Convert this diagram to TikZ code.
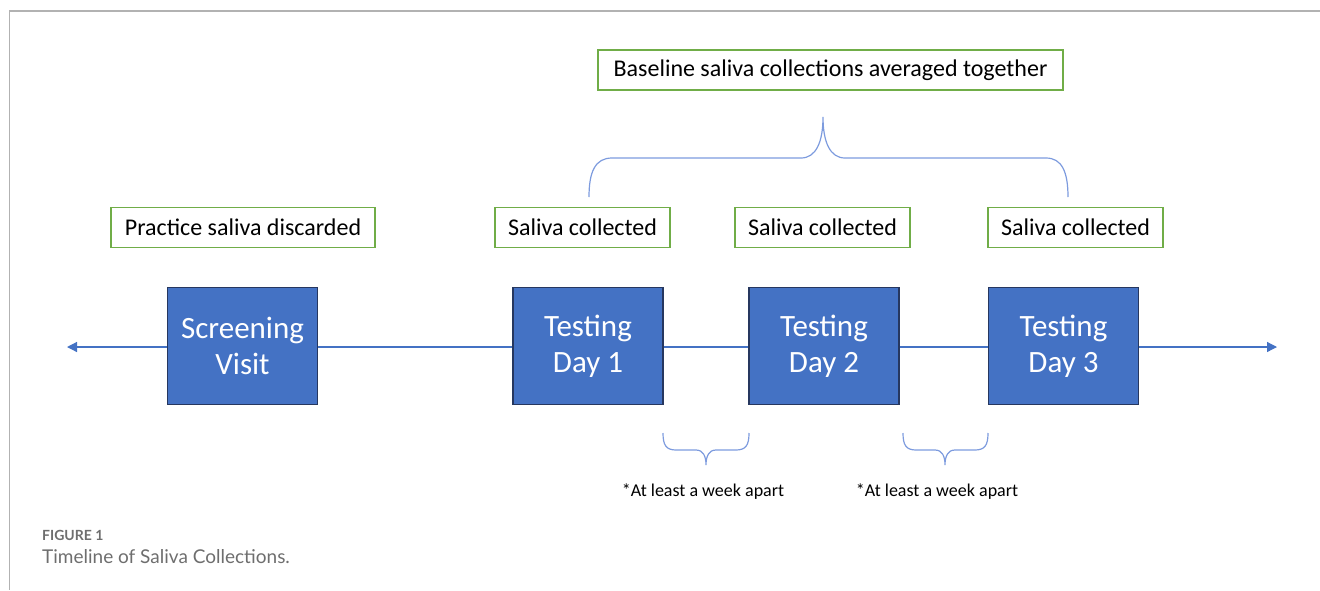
\documentclass[tikz,border=0pt]{standalone}
\usepackage{fontspec}
\setmainfont{Carlito}
\newfontfamily\capfont{Lato}
\usetikzlibrary{arrows.meta}
\definecolor{tlblue}{RGB}{68,114,196}
\definecolor{navy}{RGB}{38,55,95}
\definecolor{brblue}{RGB}{125,155,222}
\definecolor{lgreen}{RGB}{112,173,71}
\definecolor{framegray}{RGB}{178,178,178}
\definecolor{capgray}{RGB}{110,110,110}
\tikzset{
  dayblock/.style={draw=navy, line width=1.6pt, fill=tlblue, text=white, inner sep=0pt,
    minimum width=150pt, minimum height=117pt, align=center,
    font=\fontsize{31}{36}\selectfont},
  notebox/.style={draw=lgreen, line width=1.5pt, inner sep=0pt, minimum height=40pt,
    font=\fontsize{24}{28}\selectfont},
  tline/.style={tlblue, line width=1.2pt},
  brace/.style={brblue, line width=1.2pt},
  gaplabel/.style={font=\fontsize{18}{21}\selectfont},
}
\begin{document}
\begin{tikzpicture}[x=1pt,y=-1pt]
\useasboundingbox (0,0) rectangle (1320,590);
% frame
\draw[framegray, line width=2pt] (9,11) -- (1320,11);
\draw[framegray, line width=1.5pt] (9.5,10) -- (9.5,590);
% day blocks
\node[dayblock] (sv) at (242.5,346) {Screening\\Visit};
\node[dayblock] (t1) at (588,346) {Testing\\Day 1};
\node[dayblock] (t2) at (824,346) {Testing\\Day 2};
\node[dayblock] (t3) at (1063.5,346) {Testing\\Day 3};
% timeline
\coordinate (lend) at (67,347);
\coordinate (rend) at (1277,347);
\draw[tline, -{Triangle[length=10pt,width=10pt]}] (sv.west |- lend) -- (lend);
\draw[tline] (sv.east |- lend) -- (t1.west |- lend);
\draw[tline] (t1.east |- lend) -- (t2.west |- lend);
\draw[tline] (t2.east |- lend) -- (t3.west |- lend);
\draw[tline, -{Triangle[length=10pt,width=10pt]}] (t3.east |- rend) -- (rend);
% note boxes
\node[notebox, minimum width=264pt] (pd) at (243,227.5) {Practice saliva discarded};
\node[notebox, minimum width=175pt] (c1) at (582.5,227.5) {Saliva collected};
\node[notebox, minimum width=175pt] (c2) at (822.5,227.5) {Saliva collected};
\node[notebox, minimum width=175pt] (c3) at (1075.5,227.5) {Saliva collected};
\node[notebox, minimum width=465pt] (base) at (830.5,70) {Baseline saliva collections averaged together};
% top brace
\coordinate (bl) at (589,197);
\coordinate (btip) at (823,117);
\coordinate (br) at (1068,197);
\draw[brace] (bl) .. controls (589,172) and (595,158) .. (612,158) -- (801,158)
  .. controls (816,158) and (823,142) .. (btip)
  .. controls (823,142) and (830,158) .. (845,158) -- (1046,158)
  .. controls (1062,158) and (1068,172) .. (br);
% bottom braces
\coordinate (g1l) at (663,433);
\coordinate (g1t) at (706,465);
\coordinate (g1r) at (749,433);
\draw[brace] (g1l) .. controls (663,445) and (666,450) .. (676,450) -- (696,450)
  .. controls (703,450) and (706,456) .. (g1t)
  .. controls (706,456) and (709,450) .. (716,450) -- (736,450)
  .. controls (746,450) and (749,445) .. (g1r);
\coordinate (g2l) at (903,433);
\coordinate (g2t) at (945,465);
\coordinate (g2r) at (988,433);
\draw[brace] (g2l) .. controls (903,445) and (906,450) .. (916,450) -- (935,450)
  .. controls (942,450) and (945,456) .. (g2t)
  .. controls (945,456) and (948,450) .. (955,450) -- (975,450)
  .. controls (985,450) and (988,445) .. (g2r);
% gap labels
\node[gaplabel] (w1) at (703,492) {*At least a week apart};
\node[gaplabel] (w2) at (937,492) {*At least a week apart};
% caption
\node[anchor=base west, inner sep=0pt, text=capgray, font=\capfont\bfseries\fontsize{14}{16}\selectfont] (fig) at (42,540) {FIGURE 1};
\node[anchor=base west, inner sep=0pt, text=capgray, font=\capfont\fontsize{19}{23}\selectfont] (cap) at (42,563) {Timeline of Saliva Collections.};
\end{tikzpicture}
\end{document}
